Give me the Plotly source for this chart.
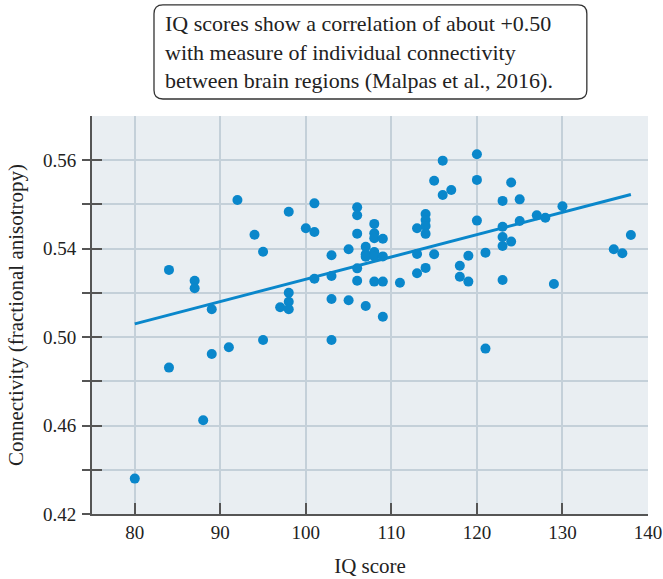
import plotly.graph_objects as go

iq_scores = [80, 84, 84, 87, 87, 88, 89, 89, 91, 92, 94, 95, 95, 97, 98, 98, 98, 98,
             100, 101, 101, 101, 103, 103, 103, 103, 105, 105, 106, 106, 106, 106, 106,
             107, 107, 107, 107, 108, 108, 108, 108, 108, 108, 109, 109, 109, 109, 111,
             113, 113, 113, 114, 114, 114, 114, 114, 115, 115, 116, 116, 117, 118, 118,
             119, 119, 120, 120, 120, 121, 121, 123, 123, 123, 123, 123, 124, 124, 125,
             125, 127, 128, 129, 130, 136, 137, 138]
connectivity = [0.436, 0.5304, 0.4862, 0.5255, 0.5221, 0.4624, 0.5126, 0.4924, 0.4954,
                0.562, 0.5463, 0.5386, 0.4987, 0.5135, 0.5567, 0.5201, 0.5160, 0.5126,
                0.5492, 0.5605, 0.5475, 0.5264, 0.5370, 0.5276, 0.5172, 0.4987, 0.5397,
                0.5167, 0.5587, 0.5551, 0.5468, 0.5311, 0.5255, 0.5409, 0.5375, 0.5364,
                0.5141, 0.5512, 0.5470, 0.5447, 0.5385, 0.5365, 0.5251, 0.5445, 0.5365,
                0.5251, 0.5092, 0.5246, 0.5492, 0.5376, 0.5289, 0.5557, 0.5530, 0.5503,
                0.5467, 0.5313, 0.5707, 0.5375, 0.5798, 0.5643, 0.5665, 0.5323, 0.5273,
                0.5368, 0.5251, 0.5827, 0.5711, 0.5527, 0.5382, 0.4948, 0.5616, 0.5499,
                0.5453, 0.5412, 0.5258, 0.5699, 0.5432, 0.5623, 0.5525, 0.5551, 0.5540,
                0.5240, 0.5592, 0.5397, 0.5379, 0.5462]

trend_x = [80, 138]
trend_y = [0.506, 0.5645]

x_ticks = [80, 90, 100, 110, 120, 130, 140]
y_ticks = [0.42, 0.44, 0.46, 0.48, 0.50, 0.52, 0.54, 0.56, 0.58]
y_ticktext = ["0.42", "", "0.46", "", "0.50", "", "0.54", "", "0.56"]

title_text = ("IQ scores show a correlation of about +0.50<br>"
              "with measure of individual connectivity<br>"
              "between brain regions (Malpas et al., 2016).")

BLUE = "#0a87cb"
FONT = "Liberation Serif"
AX = "#555555"
GRID = "#c4d0d9"

fig = go.Figure()
fig.add_trace(go.Scatter(x=trend_x, y=trend_y, mode="lines",
                         line=dict(color=BLUE, width=3), hoverinfo="skip",
                         showlegend=False))
fig.add_trace(go.Scatter(x=iq_scores, y=connectivity, mode="markers",
                         marker=dict(color=BLUE, size=10, line=dict(width=0)),
                         showlegend=False))
# helper trace for outside tick marks on an overlaid y axis
fig.add_trace(go.Scatter(x=[trend_x[0]], y=[trend_y[0]], yaxis="y2", mode="markers",
                         marker=dict(opacity=0), hoverinfo="skip", showlegend=False))

# rounded box around the caption
px0, px1, py0, py1 = 0.1115, 0.890, 1.0427, 1.279
rx, ry = 0.016, 0.022
path = (f"M {px0+rx},{py1} L {px1-rx},{py1} Q {px1},{py1} {px1},{py1-ry} "
        f"L {px1},{py0+ry} Q {px1},{py0} {px1-rx},{py0} "
        f"L {px0+rx},{py0} Q {px0},{py0} {px0},{py0+ry} "
        f"L {px0},{py1-ry} Q {px0},{py1} {px0+rx},{py1} Z")
fig.add_shape(type="path", path=path, xref="paper", yref="paper",
              line=dict(color="#333333", width=1.3), fillcolor="white", layer="above")

fig.add_annotation(text=title_text, xref="paper", yref="paper", x=0.128, y=1.161,
                   xanchor="left", yanchor="middle", align="left", showarrow=False,
                   font=dict(family=FONT, size=22, color="#222222"))

fig.update_layout(
    width=663, height=579,
    margin=dict(l=92, r=15, t=116, b=65),
    paper_bgcolor="white",
    plot_bgcolor="#e9eef2",
    font=dict(family=FONT, size=19, color="#222222"),
    xaxis=dict(range=[75, 140], tickvals=x_ticks, ticks="inside", ticklen=11,
               tickwidth=2, tickcolor=AX, showline=True, linecolor=AX, linewidth=2,
               showgrid=True, gridcolor=GRID, gridwidth=2, zeroline=False,
               automargin=False, ticklabelstandoff=0,
               title=dict(text="IQ score", standoff=17, font=dict(size=21)),
               tickfont=dict(size=19)),
    yaxis=dict(range=[0.42, 0.60], tickvals=y_ticks, ticktext=y_ticktext,
               ticks="inside", ticklen=10, tickwidth=2, tickcolor=AX,
               showline=True, linecolor=AX, linewidth=2, showgrid=True,
               gridcolor=GRID, gridwidth=2, zeroline=False, ticklabelstandoff=10,
               automargin=False,
               title=dict(text="Connectivity (fractional anisotropy)", standoff=14,
                          font=dict(size=21)),
               tickfont=dict(size=19)),
    yaxis2=dict(range=[0.42, 0.60], overlaying="y", side="left", tickvals=y_ticks,
                ticks="outside", ticklen=9, tickwidth=2, tickcolor=AX,
                showticklabels=False, showgrid=False, zeroline=False, showline=False,
                automargin=False),
)

fig.write_html("out.html", config={"displayModeBar": False},
               post_script="document.body.style.margin='0';")
